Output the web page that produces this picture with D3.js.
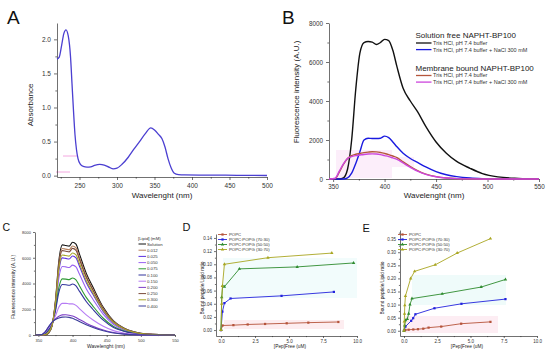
<!DOCTYPE html>
<html>
<head>
<meta charset="utf-8">
<script src="https://cdn.jsdelivr.net/npm/d3@7"></script>
<style>
  body { margin: 0; background: #fff; }
  svg { display: block; }
</style>
</head>
<body>
<div id="chart"></div>
<script>
// ---- A: absorbance spectrum ----
const absWavelength = [220,223,226,229,232,235,238,240,242,244,246,248,251,255,260,265,270,277,283,290,295,300,307,315,322,330,338,345,350,355,360,364,368,372,376,382,390,420,460,500];
const absorbance = [1.71,1.74,1.9,2.08,2.14,2.05,1.75,1.35,0.95,0.6,0.38,0.25,0.17,0.135,0.125,0.13,0.15,0.165,0.155,0.12,0.10,0.11,0.17,0.27,0.38,0.5,0.62,0.7,0.67,0.61,0.54,0.42,0.25,0.12,0.04,0.015,0.01,0.008,0.005,0.002];

// ---- B: emission, free vs membrane bound ----
const emWavelength = [346,352,356,360,364,368,372,376,380,384,388,392,396,400,404,408,412,418,425,432,440,450,460,470,483,495,510,530,550];
const freeTris = [0,0,0,60,500,2000,4600,6450,6990,7050,7020,6900,7000,7160,7100,6600,5760,4650,4000,3450,2700,1900,1320,900,550,280,110,30,0];
const freeNaCl = [0,0,0,0,60,300,800,1400,2000,2090,2080,2080,2090,2200,2120,1900,1650,1320,1050,850,620,380,220,120,50,20,5,0,0];
const boundTris = [0,20,350,750,1050,1200,1270,1310,1350,1380,1400,1390,1360,1310,1250,1180,1100,880,640,430,250,120,50,20,5,0,0,0,0];
const boundNaCl = [0,40,400,780,1050,1150,1200,1230,1260,1280,1290,1280,1250,1200,1150,1080,1010,820,600,400,235,115,50,20,5,0,0,0,0];
const emLegend = ["Tris HCl, pH 7.4 buffer", "Tris HCl, pH 7.4 buffer + NaCl 300 mM"];

// ---- C: lipid titration ----
const titrWavelength = [345,355,360,365,370,375,380,385,390,395,400,405,410,420,430,445,460,475,490,510,550];
const lipidLabels = ["Solution","0.012","0.025","0.050","0.075","0.100","0.150","0.200","0.250","0.300","0.400"];
const lipidColors = ["#111111","#b8825e","#5a2fe0","#9a62f2","#2f9a34","#32349c","#b67cf4","#7d3fc6","#7a4a3a","#a8a62a","#3c3f9a"];
const titrSolution = [0,0,0,150,700,2700,5800,7000,6950,6900,7200,7050,6300,4800,3700,2150,1100,550,250,70,0];
const titr012 = [0,0,10,180,720,2630,5580,6720,6670,6620,6910,6760,6040,4600,3540,2060,1050,530,240,70,0];
const titr025 = [0,5,45,240,750,2430,4990,5990,5950,5900,6140,5990,5360,4080,3140,1820,930,460,210,60,0];
const titr050 = [0,10,75,300,790,2250,4460,5320,5290,5240,5430,5290,4730,3600,2760,1600,820,410,180,50,0];
const titr075 = [0,15,120,385,840,2000,3690,4360,4340,4300,4430,4290,3830,2920,2230,1300,660,320,140,40,0];
const titr100 = [0,15,140,425,865,1880,3340,3920,3900,3860,3960,3820,3410,2600,1980,1150,580,290,125,35,0];
const titr150 = [0,25,200,555,945,1490,2170,2460,2460,2420,2420,2300,2050,1560,1170,680,340,160,65,17,0];
const titr200 = [0,30,245,635,990,1245,1450,1560,1570,1540,1480,1360,1210,920,670,385,190,85,27,7,0];
const titr250 = [0,0,20,190,720,2580,5440,6550,6510,6460,6730,6580,5880,4480,3450,2000,1020,510,230,65,0];
const titr300 = [0,5,35,220,740,2490,5170,6210,6170,6130,6370,6230,5570,4240,3260,1900,970,480,220,60,0];
const titr400 = [0,30,250,650,1000,1200,1320,1390,1400,1370,1300,1180,1050,800,580,330,160,70,20,5,0];
const titrSeries = [titrSolution,titr012,titr025,titr050,titr075,titr100,titr150,titr200,titr250,titr300,titr400];

// ---- D / E: binding isotherms ----
const lipidMixes = ["POPC","POPC:POPG (70:30)","POPC:POPG (50:50)","POPC:POPG (30:70)"];
const mixColors = ["#b5533a","#2222dd","#2e8b2e","#a9a621"];
const dPopcX = [0,0.12,0.91,1.96,3.24,4.83,6.42,8.63];
const dPopcY = [0,0.007,0.0075,0.0085,0.0093,0.0103,0.0113,0.0123];
const d7030X = [0,0.1,0.25,0.7,4.45,8.3];
const d7030Y = [0,0.028,0.041,0.048,0.052,0.058];
const d5050X = [0,0.05,0.12,0.25,1.35,5.6,9.75];
const d5050Y = [0,0.05,0.067,0.066,0.093,0.096,0.102];
const d3070X = [0,0.05,0.1,0.25,3.45,8.15];
const d3070Y = [0,0.04,0.067,0.1,0.11,0.117];
const ePopcX = [0,0.1,0.35,0.7,1.05,1.45,1.85,2.8,4.3,6.5];
const ePopcY = [0,0.003,0.004,0.005,0.006,0.008,0.012,0.016,0.027,0.034];
const e7030X = [0,0.11,0.54,0.69,0.86,2.29,4.32,7.63];
const e7030Y = [0,0.016,0.038,0.048,0.063,0.086,0.103,0.121];
const e5050X = [0,0.05,0.12,0.25,0.35,0.45,0.6,2.87,5.8,7.63];
const e5050Y = [0,0.02,0.04,0.045,0.065,0.1,0.123,0.141,0.167,0.196];
const e3070X = [0,0.02,0.04,0.06,0.11,0.5,0.8,2.35,4.0,6.5];
const e3070Y = [0,0.035,0.065,0.097,0.133,0.2,0.227,0.252,0.297,0.352];

const FONT = 'Arial, "Liberation Sans", sans-serif';

const svg = d3.select('#chart').append('svg')
    .attr('width', 550)
    .attr('height', 358)
    .style('font-family', FONT);

const under = svg.append('g');   // faint blotches of the scanned figure
const layer = svg.append('g');

function makePanel(o) {
    const x = d3.scaleLinear().domain(o.xDomain).range(o.xRange);
    const y = d3.scaleLinear().domain(o.yDomain).range(o.yRange);
    const g = layer.append('g');
    const bottom = o.yRange[0], left = o.xRange[0];

    g.append('g').attr('transform', `translate(0,${bottom})`)
        .call(d3.axisBottom(x).tickValues(o.xTicks).tickFormat(o.xFmt)
            .tickSize(o.tick).tickSizeOuter(0).tickPadding(o.pad));
    g.append('g').attr('class', 'minor').attr('transform', `translate(0,${bottom})`)
        .call(d3.axisBottom(x).tickValues(o.xMinor).tickFormat('')
            .tickSize(o.tick * 0.55).tickSizeOuter(0));
    g.append('g').attr('transform', `translate(${left},0)`)
        .call(d3.axisLeft(y).tickValues(o.yTicks).tickFormat(o.yFmt)
            .tickSize(o.tick).tickSizeOuter(0).tickPadding(o.pad));
    g.append('g').attr('class', 'minor').attr('transform', `translate(${left},0)`)
        .call(d3.axisLeft(y).tickValues(o.yMinor).tickFormat('')
            .tickSize(o.tick * 0.55).tickSizeOuter(0));

    g.selectAll('.minor .domain').remove();
    g.selectAll('g').attr('font-family', FONT);
    g.selectAll('.domain, .tick line').attr('stroke', '#333').attr('stroke-width', 0.7);
    g.selectAll('.tick text').attr('font-size', o.tickFont).attr('fill', '#333');

    // axis titles
    g.append('text')
        .attr('x', o.xLabelPos[0]).attr('y', o.xLabelPos[1])
        .attr('text-anchor', 'middle')
        .attr('font-size', o.labelFont)
        .attr('fill', '#222')
        .text(o.xLabel);
    g.append('text')
        .attr('transform', `translate(${o.yLabelPos[0]},${o.yLabelPos[1]}) rotate(-90)`)
        .attr('text-anchor', 'middle')
        .attr('dy', '0.35em')
        .attr('font-size', o.labelFont)
        .attr('fill', '#222')
        .text(o.yLabel);

    // panel letter
    layer.append('text')
        .attr('x', o.letterPos[0]).attr('y', o.letterPos[1])
        .attr('font-size', o.letterFont)
        .attr('fill', '#111')
        .text(o.letter);

    return { x, y, g };
}

function drawCurve(p, xs, ys, color, w, curve) {
    const pts = xs.map((v, i) => [v, ys[i]]);
    p.g.append('path')
        .datum(pts)
        .attr('fill', 'none')
        .attr('stroke', color)
        .attr('stroke-width', w)
        .attr('stroke-linejoin', 'round')
        .attr('d', d3.line().x(d => p.x(d[0])).y(d => p.y(d[1])).curve(curve || d3.curveMonotoneX));
    return pts;
}

const markerShapes = [d3.symbolSquare, d3.symbolSquare, d3.symbolTriangle, d3.symbolTriangle];

function drawIsotherm(p, xs, ys, i) {
    const pts = drawCurve(p, xs, ys, mixColors[i], 0.9, d3.curveLinear);
    p.g.append('g').selectAll('path')
        .data(pts)
        .enter()
        .append('path')
        .attr('transform', d => `translate(${p.x(d[0])},${p.y(d[1])})`)
        .attr('d', d3.symbol().type(markerShapes[i]).size(5))
        .attr('fill', mixColors[i]);
}

function isoLegend(p, x0, y0) {
    lipidMixes.forEach((name, i) => {
        const yy = y0 + i * 5;
        p.g.append('line')
            .attr('x1', x0).attr('x2', x0 + 9).attr('y1', yy).attr('y2', yy)
            .attr('stroke', mixColors[i]).attr('stroke-width', 0.9);
        p.g.append('path')
            .attr('transform', `translate(${x0 + 4.5},${yy})`)
            .attr('d', d3.symbol().type(markerShapes[i]).size(5))
            .attr('fill', mixColors[i]);
        p.g.append('text')
            .attr('x', x0 + 11).attr('y', yy)
            .attr('dy', '0.35em')
            .attr('font-size', 4.3)
            .attr('fill', '#333')
            .text(name);
    });
}

// ================= A =================
const pA = makePanel({
    xDomain: [220, 500], xRange: [57, 267],
    yDomain: [-0.02, 2.24], yRange: [177, 23],
    xTicks: d3.range(250, 501, 50), xMinor: d3.range(225, 500, 50),
    yTicks: [0, 0.5, 1, 1.5, 2], yMinor: [0.25, 0.75, 1.25, 1.75],
    xFmt: d3.format('d'), yFmt: d3.format('.1f'),
    tick: 3, pad: 3, tickFont: 6.5, labelFont: 8,
    xLabel: 'Wavelenght (nm)', xLabelPos: [162, 198],
    yLabel: 'Absorbance', yLabelPos: [30, 105],
    letter: 'A', letterPos: [7, 24], letterFont: 19
});
under.append('line').attr('x1', 63).attr('x2', 77).attr('y1', 156).attr('y2', 156)
    .attr('stroke', '#f4a8e0').attr('stroke-width', 1);
under.append('line').attr('x1', 56).attr('x2', 70).attr('y1', 172).attr('y2', 172)
    .attr('stroke', '#f4a8e0').attr('stroke-width', 1);
drawCurve(pA, absWavelength, absorbance, '#4b3fd1', 1.3);

// ================= B =================
const pB = makePanel({
    xDomain: [346, 550], xRange: [329, 539],
    yDomain: [0, 8000], yRange: [179, 23],
    xTicks: d3.range(350, 551, 50), xMinor: d3.range(375, 550, 50),
    yTicks: d3.range(0, 8001, 2000), yMinor: d3.range(1000, 8000, 2000),
    xFmt: d3.format('d'), yFmt: d3.format('d'),
    tick: 3, pad: 3, tickFont: 6.3, labelFont: 8,
    xLabel: 'Wavelenght (nm)', xLabelPos: [434, 198],
    yLabel: 'Fluorescence intensity (A.U.)', yLabelPos: [296, 92],
    letter: 'B', letterPos: [282, 24], letterFont: 19
});
under.append('rect').attr('x', 336).attr('y', 150).attr('width', 56).attr('height', 28)
    .attr('fill', '#f7cdf1').attr('opacity', 0.35);
under.append('rect').attr('x', 392).attr('y', 157).attr('width', 22).attr('height', 10)
    .attr('fill', '#f7cdf1').attr('opacity', 0.35);

const emSeries = [freeTris, freeNaCl, boundTris, boundNaCl];
const emColors = ['#111111', '#1a1ae0', '#b5563c', '#cc46dc'];
emSeries.forEach((s, i) => drawCurve(pB, emWavelength, s, emColors[i], 1.4));

const legB = pB.g.append('g');
[['Solution free NAPHT-BP100', 38, 0], ['Membrane bound NAPHT-BP100', 70.5, 2]].forEach(([title, ty, c0]) => {
    legB.append('text').attr('x', 415.5).attr('y', ty)
        .attr('font-size', 8).attr('fill', '#222').text(title);
    emLegend.forEach((lab, j) => {
        const yy = ty + 5 + j * 6.6;
        legB.append('line').attr('x1', 416).attr('x2', 431.5).attr('y1', yy).attr('y2', yy)
            .attr('stroke', emColors[c0 + j]).attr('stroke-width', 1.3);
        legB.append('text').attr('x', 433).attr('y', yy).attr('dy', '0.35em')
            .attr('font-size', 5.5).attr('fill', '#333').text(lab);
    });
});

// ================= C =================
const pC = makePanel({
    xDomain: [345, 550], xRange: [35, 175],
    yDomain: [0, 8000], yRange: [335, 232],
    xTicks: d3.range(350, 551, 50), xMinor: d3.range(375, 550, 50),
    yTicks: d3.range(0, 8001, 2000), yMinor: d3.range(1000, 8000, 2000),
    xFmt: d3.format('d'), yFmt: d3.format('d'),
    tick: 2, pad: 2, tickFont: 4, labelFont: 5,
    xLabel: 'Wavelenght (nm)', xLabelPos: [106, 348],
    yLabel: 'Fluorescence intensity (A.U.)', yLabelPos: [13, 287],
    letter: 'C', letterPos: [2.5, 230.5], letterFont: 10.5
});
titrSeries.forEach((s, i) => drawCurve(pC, titrWavelength, s, lipidColors[i], 1.1));
pC.g.append('text').attr('x', 138).attr('y', 240)
    .attr('font-size', 4.3).attr('fill', '#333').text('[Lipid] (mM)');
lipidLabels.forEach((lab, i) => {
    const yy = 244 + i * 6.2;
    pC.g.append('line').attr('x1', 138.5).attr('x2', 146).attr('y1', yy).attr('y2', yy)
        .attr('stroke', lipidColors[i]).attr('stroke-width', 1);
    pC.g.append('text').attr('x', 147).attr('y', yy).attr('dy', '0.35em')
        .attr('font-size', 4.3).attr('fill', '#333').text(lab);
});

// ================= D =================
const pD = makePanel({
    xDomain: [-0.37, 10], xRange: [216, 357],
    yDomain: [-0.009, 0.146], yRange: [336, 234],
    xTicks: [0, 2.5, 5, 7.5, 10], xMinor: [1.25, 3.75, 6.25, 8.75],
    yTicks: d3.range(0, 0.141, 0.02), yMinor: d3.range(0.01, 0.141, 0.02),
    xFmt: d3.format('.1f'), yFmt: d3.format('.2f'),
    tick: 2, pad: 2, tickFont: 4.5, labelFont: 4.8,
    xLabel: '[Pep]Free (uM)', xLabelPos: [290, 348],
    yLabel: 'Bound peptide/Lipid ratio', yLabelPos: [202, 288],
    letter: 'D', letterPos: [182.5, 231], letterFont: 11
});
under.append('rect').attr('x', 224).attr('y', 320).attr('width', 120).attr('height', 9)
    .attr('fill', '#fdedf0');
under.append('rect').attr('x', 223).attr('y', 258).attr('width', 134).attr('height', 40)
    .attr('fill', '#f2fcfc');
drawIsotherm(pD, dPopcX, dPopcY, 0);
drawIsotherm(pD, d7030X, d7030Y, 1);
drawIsotherm(pD, d5050X, d5050Y, 2);
drawIsotherm(pD, d3070X, d3070Y, 3);
isoLegend(pD, 218, 234.5);

// ================= E =================
const pE = makePanel({
    xDomain: [-0.3, 10], xRange: [400, 537],
    yDomain: [-0.02, 0.385], yRange: [336, 230],
    xTicks: [0, 2.5, 5, 7.5, 10], xMinor: [1.25, 3.75, 6.25, 8.75],
    yTicks: d3.range(0, 0.351, 0.05), yMinor: d3.range(0.025, 0.376, 0.05),
    xFmt: d3.format('.1f'), yFmt: d3.format('.2f'),
    tick: 2, pad: 2, tickFont: 4.5, labelFont: 4.8,
    xLabel: '[Pep]Free (uM)', xLabelPos: [467, 348],
    yLabel: 'Bound peptide/Lipid ratio', yLabelPos: [382, 288],
    letter: 'E', letterPos: [362.5, 232], letterFont: 11
});
under.append('rect').attr('x', 405).attr('y', 316).attr('width', 93).attr('height', 17)
    .attr('fill', '#fdedf3');
under.append('rect').attr('x', 412).attr('y', 275).attr('width', 94).attr('height', 30)
    .attr('fill', '#effbfa');
drawIsotherm(pE, ePopcX, ePopcY, 0);
drawIsotherm(pE, e7030X, e7030Y, 1);
drawIsotherm(pE, e5050X, e5050Y, 2);
drawIsotherm(pE, e3070X, e3070Y, 3);
isoLegend(pE, 398, 234.5);
</script>
</body>
</html>
